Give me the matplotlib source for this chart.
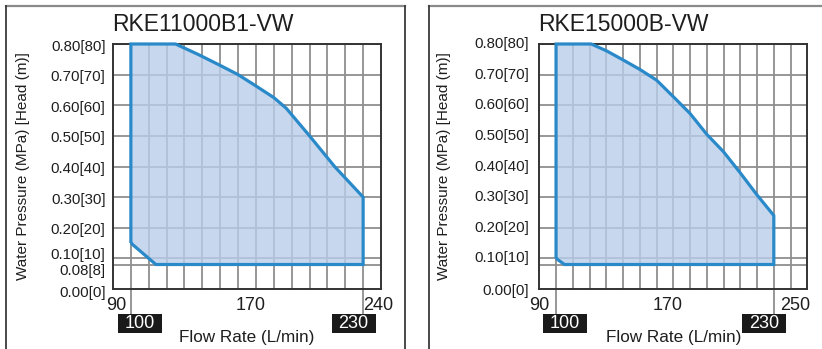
import matplotlib
matplotlib.use("Agg")
import matplotlib.pyplot as plt
from matplotlib.patches import Rectangle
from matplotlib.lines import Line2D
import matplotlib.transforms as mtrans

plt.rcParams['font.family'] = ['Liberation Sans', 'DejaVu Sans']

# ---------------- data ----------------
titles = ["RKE11000B1-VW", "RKE15000B-VW"]

# operating envelope polygons (flow L/min, pressure MPa)
left_flow = [100, 100, 125, 138, 150, 160, 170, 180, 187, 200, 214, 230, 230, 114, 100]
left_pres = [0.15, 0.80, 0.80, 0.765, 0.73, 0.70, 0.663, 0.625, 0.59, 0.50, 0.40, 0.30, 0.08, 0.08, 0.15]

right_flow = [100, 100, 121, 130, 140, 150, 160, 170, 180, 190, 200, 210, 220, 230, 230, 105, 100]
right_pres = [0.10, 0.80, 0.80, 0.778, 0.748, 0.717, 0.682, 0.628, 0.573, 0.505, 0.448, 0.379, 0.307, 0.24, 0.08, 0.08, 0.10]

x_limits = [(90, 240), (90, 250)]
x_tick_values = [[90, 170, 240], [90, 170, 250]]
x_tick_labels = [["90", "170", "240"], ["90", "170", "250"]]
box_values = [100, 230]
box_labels = ["100", "230"]

y_grid = [0.08, 0.10, 0.20, 0.30, 0.40, 0.50, 0.60, 0.70, 0.80]
y_tick_values_left = [0.00, 0.08, 0.10, 0.20, 0.30, 0.40, 0.50, 0.60, 0.70, 0.80]
y_tick_labels_left = ["0.00[0]", "0.08[8]", "0.10[10]", "0.20[20]", "0.30[30]",
                      "0.40[40]", "0.50[50]", "0.60[60]", "0.70[70]", "0.80[80]"]
y_tick_values_right = [0.00, 0.10, 0.20, 0.30, 0.40, 0.50, 0.60, 0.70, 0.80]
y_tick_labels_right = ["0.00[0]", "0.10[10]", "0.20[20]", "0.30[30]",
                       "0.40[40]", "0.50[50]", "0.60[60]", "0.70[70]", "0.80[80]"]

# ---------------- figure ----------------
W, H = 822, 349
fig = plt.figure(figsize=(W / 100, H / 100), dpi=100)

def fx(px):
    return px / W

def fy(py):  # py measured from top
    return 1 - py / H

FILL = "#b9cdea"
EDGE = "#2a8ac9"
GRID = "#8f8f8f"
SPINE = "#333333"
TXT = "#1e1e1e"

# panel frames
for (x0, x1) in [(5.5, 405), (429, 823)]:
    fig.add_artist(Line2D([fx(x0), fx(x1)], [fy(5.5), fy(5.5)], color="#8a8a8a", lw=1.6))
    fig.add_artist(Line2D([fx(x0), fx(x0)], [fy(5.5), fy(350)], color="#3a3a3a", lw=1.3))
    if x1 < 820:
        fig.add_artist(Line2D([fx(x1), fx(x1)], [fy(5.5), fy(350)], color="#3a3a3a", lw=1.3))

axes_px = [(113, 44, 381, 289), (539.3, 44, 807.3, 289)]
ylabel_x = [23, 444]
polys = [(left_flow, left_pres), (right_flow, right_pres)]
ytv = [y_tick_values_left, y_tick_values_right]
ytl = [y_tick_labels_left, y_tick_labels_right]

for i in range(2):
    l, t, r, b = axes_px[i]
    ax = fig.add_axes([fx(l), fy(b), fx(r - l), (b - t) / H])
    ax.set_xlim(*x_limits[i])
    ax.set_ylim(0, 0.8)
    ax.set_xticks([])
    ax.set_yticks([])
    for s in ax.spines.values():
        s.set_color(SPINE)
        s.set_linewidth(1.4)

    # grid
    for gx in range(100, x_limits[i][1], 10):
        ax.axvline(gx, color=GRID, lw=1.3, zorder=1)
    for gy in y_grid:
        ax.axhline(gy, color=GRID, lw=1.3, zorder=1)
    # extended gridlines at boxed values
    for bv in box_values:
        ax.plot([bv, bv], [0, -0.08], color=GRID, lw=1.3, clip_on=False, zorder=1)

    fxs, fys = polys[i]
    ax.fill(fxs, fys, color=FILL, alpha=0.8, zorder=2, lw=0)
    ax.plot(fxs, fys, color=EDGE, lw=2.3, zorder=3, solid_joinstyle='miter',
            solid_capstyle='butt', clip_on=False)

    # title left-aligned to axes
    fig.text(fx(l - 1), fy(24.5), titles[i], ha="left", va="center", fontsize=16.5, color=TXT)

    # y tick labels
    for v, lab in zip(ytv[i], ytl[i]):
        dy = 0
        if i == 0:
            dy = -2.5
            if lab.startswith("0.10"):
                dy = 3.5
            elif lab.startswith("0.08"):
                dy = -7
            elif lab.startswith("0.00"):
                dy = -3.5
        else:
            if lab.startswith("0.00"):
                dy = -2
        tr = ax.get_yaxis_transform() + mtrans.ScaledTranslation(0, dy / 100, fig.dpi_scale_trans)
        pad = 7.5 if i == 0 else 10
        ax.text(-pad / (r - l), v, lab, transform=tr, ha="right", va="center",
                fontsize=10.8, color=TXT)

    # x tick labels
    xoffs = [[3.5, -5, -3], [0, -5.5, -12]]
    for j, (v, lab) in enumerate(zip(x_tick_values[i], x_tick_labels[i])):
        tr = ax.get_xaxis_transform() + mtrans.ScaledTranslation(xoffs[i][j] / 100, 0, fig.dpi_scale_trans)
        ax.text(v, -(305 - b) / (b - t), lab, transform=tr, ha="center", va="center",
                fontsize=13, color=TXT)

    # boxed labels
    boff = [9, -9.5]
    for k, (bv, bl) in enumerate(zip(box_values, box_labels)):
        cx = l + (bv - x_limits[i][0]) / (x_limits[i][1] - x_limits[i][0]) * (r - l) + boff[k]
        cy = 323.5
        bw, bh = 44, 19
        fig.add_artist(Rectangle((fx(cx - bw / 2), fy(cy + bh / 2)), bw / W, bh / H,
                                 transform=fig.transFigure, facecolor="#1a1a1a", edgecolor="none"))
        fig.text(fx(cx), fy(cy + 0.5), bl, ha="center", va="center", fontsize=13, color="white")

    # axis labels
    fig.text(fx((l + r) / 2), fy(337.5), "Flow Rate (L/min)", ha="center", va="center",
             fontsize=12.3, color=TXT)
    fig.text(fx(ylabel_x[i]), fy((t + b) / 2), "Water Pressure (MPa) [Head (m)]",
             rotation=90, ha="center", va="center", fontsize=11, color=TXT)

fig.savefig("out.png", dpi=100)
